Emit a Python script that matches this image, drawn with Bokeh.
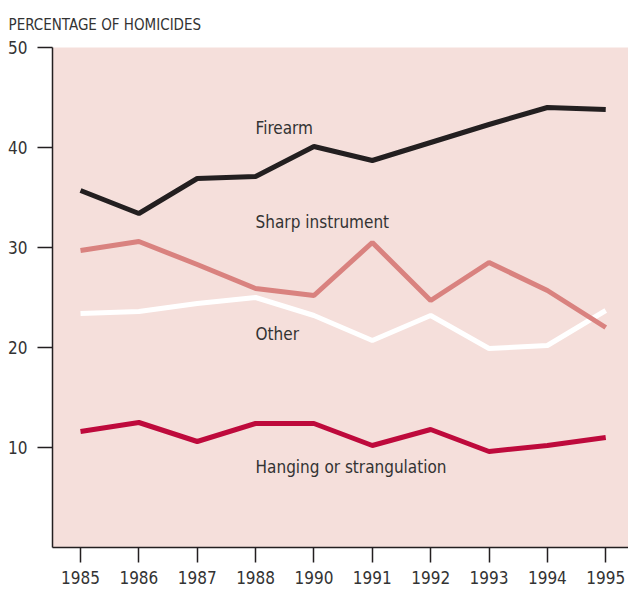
from bokeh.plotting import figure
from bokeh.models import FixedTicker, ColumnDataSource, Label
from bokeh.embed import file_html
from bokeh.resources import INLINE

years = ["1985", "1986", "1987", "1988", "1990", "1991", "1992", "1993", "1994", "1995"]
firearm = [35.7, 33.4, 36.9, 37.1, 40.1, 38.7, 40.5, 42.3, 44.0, 43.8]
sharp = [29.7, 30.6, 28.3, 25.9, 25.2, 30.5, 24.7, 28.5, 25.7, 22.0]
other = [23.4, 23.6, 24.4, 25.0, 23.2, 20.7, 23.2, 19.9, 20.2, 23.7]
hanging = [11.6, 12.5, 10.6, 12.4, 12.4, 10.2, 11.8, 9.6, 10.2, 11.0]
y_ticks = [10, 20, 30, 40, 50]

FONT = "DejaVu Sans Condensed"
TXT = "#333333"

xs = list(range(len(years)))
src = ColumnDataSource(dict(x=xs, firearm=firearm, sharp=sharp, other=other, hanging=hanging))

p = figure(width=628, height=593, output_backend="svg", toolbar_location=None,
           x_range=(-0.48, 9.39), y_range=(0, 50),
           min_border_left=52, min_border_right=0, min_border_top=47, min_border_bottom=46)
p.background_fill_color = "#F5DFDB"
p.border_fill_color = "white"
p.outline_line_color = None
p.grid.visible = False

p.title.text = "PERCENTAGE OF HOMICIDES"
p.title.align = "left"
p.title.offset = -44
p.title.standoff = 27
p.title.text_font = FONT
p.title.text_font_size = "15px"
p.title.text_font_style = "normal"
p.title.text_color = TXT

for ax in (p.xaxis[0], p.yaxis[0]):
    ax.axis_line_color = "#231f20"
    ax.axis_line_width = 1.5
    ax.major_tick_line_color = "#231f20"
    ax.major_tick_line_width = 1.5
    ax.major_tick_out = 15
    ax.major_tick_in = 0
    ax.minor_tick_line_color = None
    ax.major_label_text_font = FONT
    ax.major_label_text_font_size = "17px"
    ax.major_label_text_color = TXT

p.xaxis.ticker = FixedTicker(ticks=xs)
p.xaxis.major_label_overrides = {i: y for i, y in enumerate(years)}
p.xaxis.major_label_standoff = 8
p.yaxis.ticker = FixedTicker(ticks=y_ticks)
p.yaxis.major_label_standoff = 10

lw = 5
p.line("x", "other", source=src, line_color="white", line_width=lw)
p.line("x", "sharp", source=src, line_color="#D9827F", line_width=lw)
p.line("x", "hanging", source=src, line_color="#BE0A3C", line_width=lw)
p.line("x", "firearm", source=src, line_color="#231F20", line_width=lw)

labels = [("Firearm", 3, 42.0), ("Sharp instrument", 3, 32.6), ("Other", 3, 21.4),
          ("Hanging or strangulation", 3, 8.1)]
for t, lx, ly in labels:
    p.add_layout(Label(x=lx, y=ly, text=t, text_font=FONT, text_font_size="17px",
                       text_color=TXT, text_baseline="middle", text_align="left"))

open("out.html", "w").write(file_html(p, INLINE))
